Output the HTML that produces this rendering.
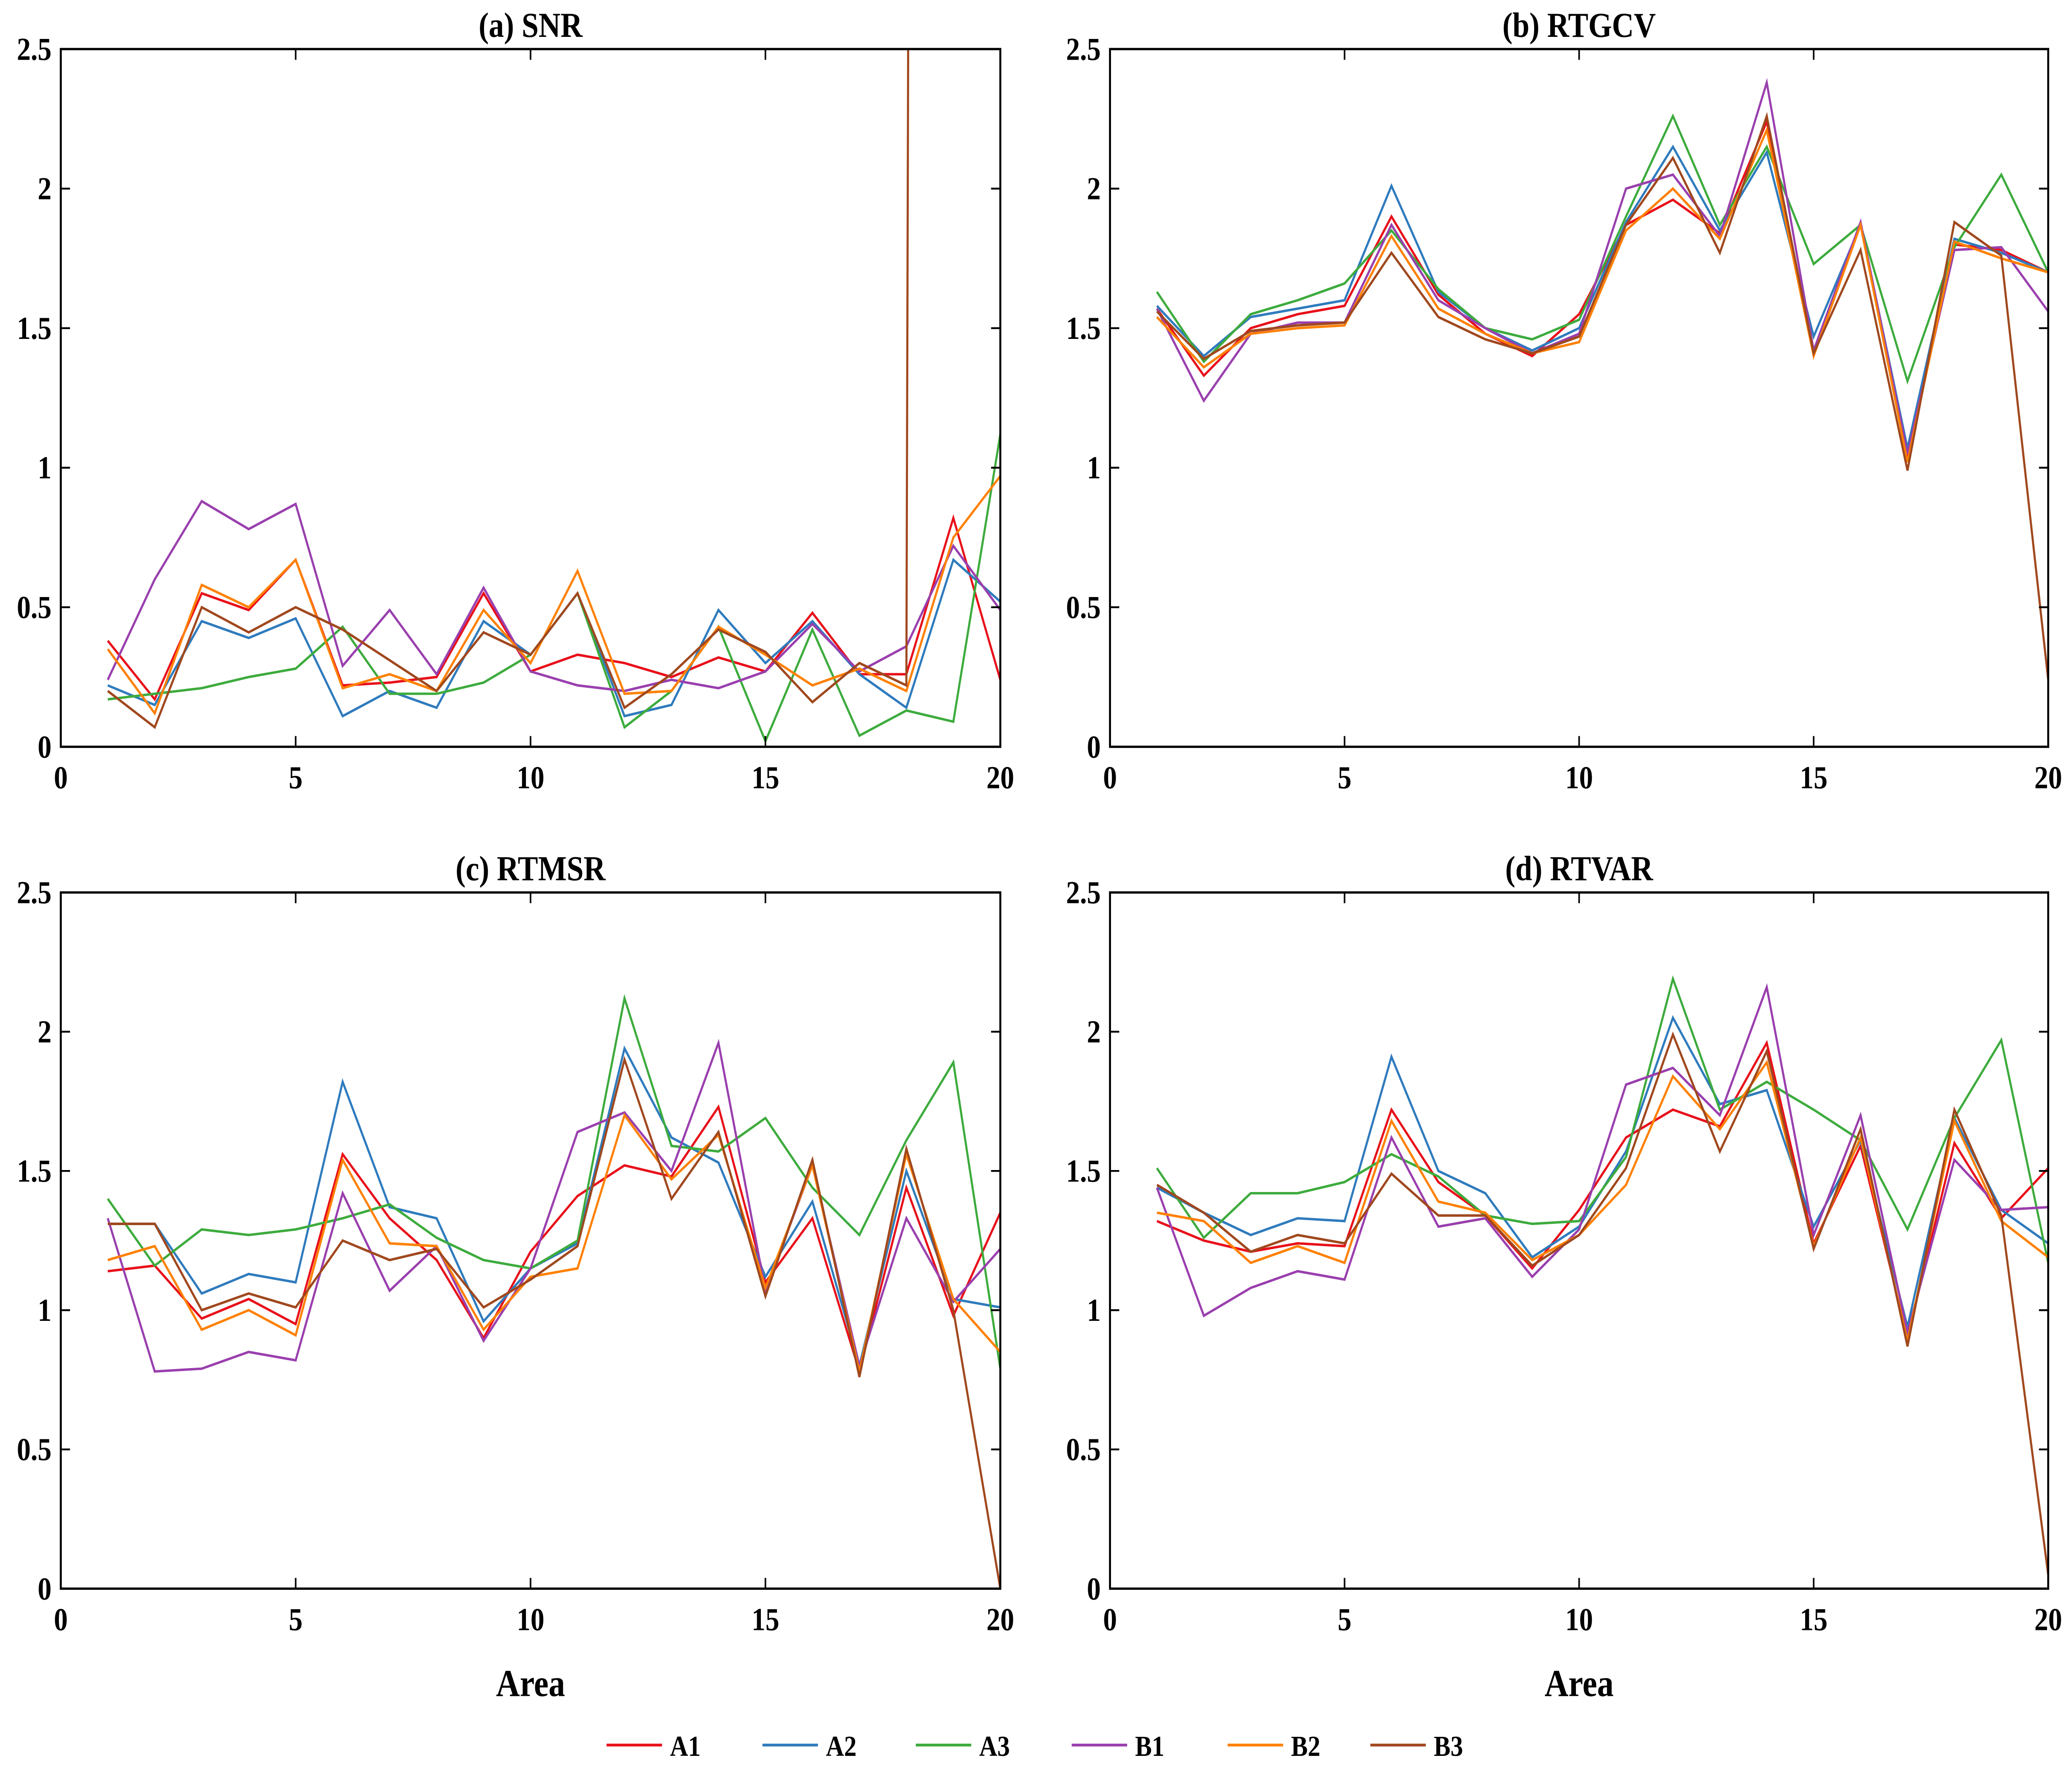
<!DOCTYPE html>
<html><head><meta charset="utf-8">
<style>html,body{margin:0;padding:0;background:#fff;overflow:hidden;width:100%;height:100%}svg{display:block;width:100vw;height:100vh}</style>
</head><body>
<svg id="fig" xmlns="http://www.w3.org/2000/svg" viewBox="0 0 1568 1151" preserveAspectRatio="none" font-family="'Liberation Serif', serif" font-weight="bold"></svg>
<script>
const xs = [1,2,3,4,5,6,7,8,9,10,11,12,13,14,15,16,17,18,19,20];
const seriesNames = ["A1","A2","A3","B1","B2","B3"];
const colors = ["#e8101a","#2f7bbd","#3dab3d","#9a3fae","#ff8000","#a0481e"];
const xTicks = [0,5,10,15,20];
const yTicks = [0,0.5,1,1.5,2,2.5];
const yTickLabels = ["0","0.5","1","1.5","2","2.5"];
const titles = ["(a) SNR","(b) RTGCV","(c) RTMSR","(d) RTVAR"];

const snrA1=[0.38,0.17,0.55,0.49,0.67,0.22,0.23,0.25,0.55,0.27,0.33,0.30,0.25,0.32,0.27,0.48,0.26,0.26,0.82,0.24];
const snrA2=[0.22,0.15,0.45,0.39,0.46,0.11,0.20,0.14,0.45,0.33,0.55,0.11,0.15,0.49,0.30,0.45,0.26,0.14,0.67,0.52];
const snrA3=[0.17,0.19,0.21,0.25,0.28,0.43,0.19,0.19,0.23,0.33,0.55,0.07,0.20,0.43,0.02,0.42,0.04,0.13,0.09,1.12];
const snrB1=[0.24,0.60,0.88,0.78,0.87,0.29,0.49,0.26,0.57,0.27,0.22,0.20,0.24,0.21,0.27,0.44,0.27,0.36,0.72,0.49];
const snrB2=[0.35,0.12,0.58,0.50,0.67,0.21,0.26,0.20,0.49,0.30,0.63,0.19,0.20,0.43,0.33,0.22,0.28,0.20,0.75,0.97];
const snrB3=[0.20,0.07,0.50,0.41,0.50,0.42,0.31,0.20,0.41,0.33,0.55,0.14,0.26,0.42,0.34,0.16,0.30,0.22,60,60];

const gcvA1=[1.57,1.33,1.50,1.55,1.58,1.90,1.62,1.48,1.40,1.55,1.87,1.96,1.84,2.24,1.42,1.87,1.03,1.80,1.78,1.70];
const gcvA2=[1.58,1.40,1.54,1.57,1.60,2.01,1.63,1.50,1.42,1.50,1.88,2.15,1.85,2.13,1.47,1.87,1.07,1.82,1.77,1.70];
const gcvA3=[1.63,1.38,1.55,1.60,1.66,1.85,1.64,1.50,1.46,1.53,1.90,2.26,1.87,2.15,1.73,1.87,1.31,1.79,2.05,1.70];
const gcvB1=[1.57,1.24,1.48,1.52,1.52,1.87,1.60,1.50,1.41,1.48,2.00,2.05,1.83,2.38,1.42,1.88,1.05,1.78,1.79,1.56];
const gcvB2=[1.54,1.36,1.48,1.50,1.51,1.83,1.57,1.48,1.41,1.45,1.85,2.00,1.82,2.21,1.40,1.87,1.02,1.81,1.75,1.70];
const gcvB3=[1.56,1.39,1.49,1.51,1.52,1.77,1.54,1.46,1.41,1.47,1.87,2.11,1.77,2.26,1.41,1.78,0.99,1.88,1.76,0.24];

const msrA1=[1.14,1.16,0.97,1.04,0.95,1.56,1.33,1.18,0.90,1.21,1.41,1.52,1.48,1.73,1.10,1.33,0.78,1.44,0.98,1.35];
const msrA2=[1.31,1.31,1.06,1.13,1.10,1.82,1.37,1.33,0.96,1.15,1.24,1.94,1.62,1.53,1.12,1.39,0.80,1.50,1.04,1.01];
const msrA3=[1.40,1.16,1.29,1.27,1.29,1.33,1.38,1.26,1.18,1.15,1.25,2.12,1.59,1.57,1.69,1.44,1.27,1.61,1.89,0.79];
const msrB1=[1.33,0.78,0.79,0.85,0.82,1.42,1.07,1.23,0.89,1.15,1.64,1.71,1.50,1.96,1.07,1.52,0.80,1.33,1.03,1.22];
const msrB2=[1.18,1.23,0.93,1.00,0.91,1.54,1.24,1.23,0.93,1.12,1.15,1.70,1.47,1.63,1.08,1.52,0.78,1.56,1.04,0.85];
const msrB3=[1.31,1.31,1.00,1.06,1.01,1.25,1.18,1.22,1.01,1.11,1.23,1.90,1.40,1.64,1.05,1.54,0.76,1.58,1.00,0.00];

const varA1=[1.32,1.25,1.21,1.24,1.23,1.72,1.46,1.34,1.15,1.36,1.62,1.72,1.66,1.96,1.24,1.59,0.90,1.60,1.33,1.51];
const varA2=[1.44,1.35,1.27,1.33,1.32,1.91,1.50,1.42,1.19,1.30,1.57,2.05,1.74,1.79,1.30,1.61,0.94,1.69,1.36,1.24];
const varA3=[1.51,1.26,1.42,1.42,1.46,1.56,1.48,1.34,1.31,1.32,1.55,2.19,1.72,1.82,1.72,1.61,1.29,1.69,1.97,1.17];
const varB1=[1.44,0.98,1.08,1.14,1.11,1.62,1.30,1.33,1.12,1.29,1.81,1.87,1.70,2.16,1.27,1.70,0.92,1.54,1.36,1.37];
const varB2=[1.35,1.32,1.17,1.23,1.17,1.68,1.39,1.35,1.18,1.27,1.45,1.84,1.65,1.89,1.23,1.62,0.89,1.68,1.32,1.19];
const varB3=[1.45,1.35,1.21,1.27,1.24,1.49,1.34,1.34,1.16,1.27,1.51,1.99,1.57,1.93,1.22,1.65,0.87,1.72,1.34,0.05];

const panelData = [
  [snrA1,snrA2,snrA3,snrB1,snrB2,snrB3],
  [gcvA1,gcvA2,gcvA3,gcvB1,gcvB2,gcvB3],
  [msrA1,msrA2,msrA3,msrB1,msrB2,msrB3],
  [varA1,varA2,varA3,varB1,varB2,varB3]
];
const panelNames = ["snr","rtgcv","rtmsr","rtvar"];

const NS="http://www.w3.org/2000/svg";
const svg=document.getElementById('fig');
function mk(tag,attrs,parent){const e=document.createElementNS(NS,tag);for(const k in attrs)e.setAttribute(k,attrs[k]);(parent||svg).appendChild(e);return e;}

const boxes=[{x0:46,x1:757,y0:32,y1:487},{x0:840,x1:1550,y0:32,y1:487},{x0:46,x1:757,y0:582,y1:1036},{x0:840,x1:1550,y0:582,y1:1036}];

boxes.forEach((b,p)=>{
  const g=mk('g',{});
  
  
  const sx=v=>b.x0+(v-0)/(20-0)*(b.x1-b.x0);
  const sy=v=>b.y1-(v-0)/(2.5-0)*(b.y1-b.y0);
  const cp=mk('clipPath',{id:'clip'+p},g);
  mk('rect',{x:b.x0,y:b.y0,width:b.x1-b.x0,height:b.y1-b.y0},cp);
  panelData[p].forEach((vals,i)=>{
    const pts=vals.map((v,j)=>sx(xs[j]).toFixed(2)+','+sy(v).toFixed(2)).join(' ');
    const pl=mk('polyline',{points:pts,fill:'none',stroke:colors[i],'stroke-width':1.6,'stroke-linejoin':'miter','clip-path':'url(#clip'+p+')'},g);
    
    
  });
  const fr=mk('rect',{x:b.x0,y:b.y0,width:b.x1-b.x0,height:b.y1-b.y0,fill:'none',stroke:'#000','stroke-width':1.5},g);
  
  
  xTicks.forEach(t=>{
    const x=sx(t);
    mk('line',{x1:x,x2:x,y1:b.y1,y2:b.y1-7,stroke:'#000','stroke-width':1.2},g);
    mk('line',{x1:x,x2:x,y1:b.y0,y2:b.y0+7,stroke:'#000','stroke-width':1.2},g);
    const tx=mk('text',{x:x,y:b.y1+27,'text-anchor':'middle','font-size':21},g);
    tx.textContent=String(t);
    
    
  });
  yTicks.forEach((t,k)=>{
    const y=sy(t);
    mk('line',{x1:b.x0,x2:b.x0+7,y1:y,y2:y,stroke:'#000','stroke-width':1.2},g);
    mk('line',{x1:b.x1,x2:b.x1-7,y1:y,y2:y,stroke:'#000','stroke-width':1.2},g);
    const ty=mk('text',{x:b.x0-7,y:y+7,'text-anchor':'end','font-size':21},g);
    ty.textContent=yTickLabels[k];
    
    
  });
  const tt=mk('text',{x:(b.x0+b.x1)/2,y:b.y0-8,'text-anchor':'middle','font-size':23},g);
  tt.textContent=titles[p];
  
  
  if(p>=2){
    const xl=mk('text',{x:(b.x0+b.x1)/2,y:b.y1+70,'text-anchor':'middle','font-size':25},g);
    xl.textContent='Area';
    
    
  }
});

const lg=mk('g',{});


const legX=[459,577,693,811,929,1037];
seriesNames.forEach((n,i)=>{
  const eg=mk('g',{},lg);
  
  
  mk('line',{x1:legX[i],x2:legX[i]+42,y1:1138,y2:1138,stroke:colors[i],'stroke-width':1.8},eg);
  const t=mk('text',{x:legX[i]+48,y:1145,'font-size':19},eg);
  t.textContent=n;
});
</script>
</body></html>
